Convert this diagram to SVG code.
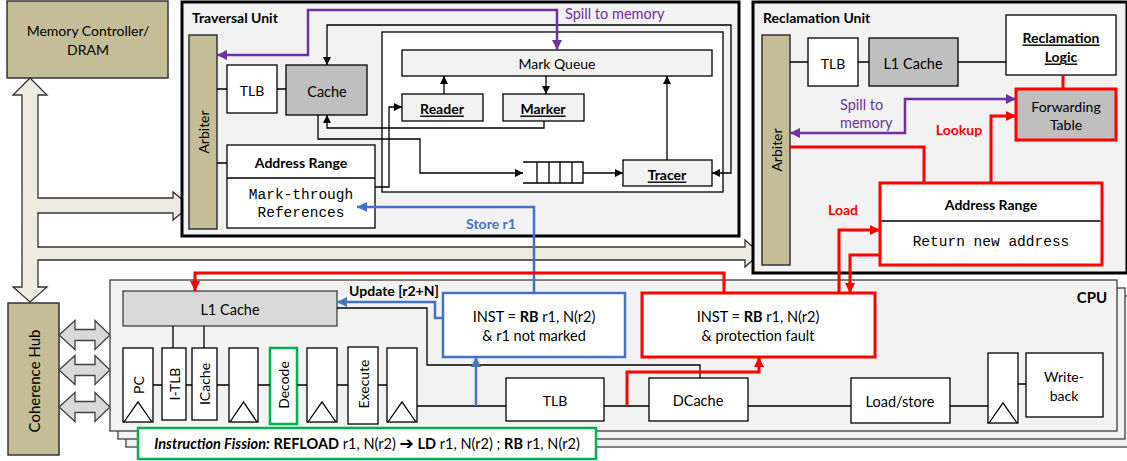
<svg xmlns="http://www.w3.org/2000/svg" width="1127" height="461" viewBox="0 0 1127 461">
<style>
text{font-family:Lato,"Open Sans","Liberation Sans",sans-serif;font-size:14px;fill:#000;dominant-baseline:central;text-anchor:middle}
.t{font-size:14px;font-weight:bold;text-anchor:start}
.b{font-weight:bold}
.u{font-weight:bold;text-decoration:underline}
.m{font-family:"Liberation Mono","DejaVu Sans Mono",monospace;font-size:14.5px}
.box{fill:#fff;stroke:#000;stroke-width:1.3}
.lg{fill:#f2f2f2;stroke:#000;stroke-width:1.3}
.gr{fill:#bfbfbf;stroke:#000;stroke-width:1.3}
.tan{fill:#c4bd97;stroke:#333;stroke-width:1.5}
.unit{fill:#f2f2f2;stroke:#000;stroke-width:3}
.cpu{fill:#f2f2f2;stroke:#404040;stroke-width:1.3}
.ln{fill:none;stroke:#000;stroke-width:1.3}
.red{fill:none;stroke:#f00;stroke-width:3}
.blue{fill:none;stroke:#4472c4;stroke-width:2.5}
.pur{fill:none;stroke:#7030a0;stroke-width:2.5}
.tri{fill:none;stroke:#000;stroke-width:1.3}
</style>
<defs>
<marker id="ak" viewBox="0 0 10 10" refX="10" refY="5" markerWidth="8" markerHeight="8" markerUnits="userSpaceOnUse" orient="auto-start-reverse"><path d="M0,0L10,5L0,10z" fill="#000"/></marker>
<marker id="ar" viewBox="0 0 10 10" refX="10" refY="5" markerWidth="10" markerHeight="10" markerUnits="userSpaceOnUse" orient="auto-start-reverse"><path d="M0,0L10,5L0,10z" fill="#f00"/></marker>
<marker id="abl" viewBox="0 0 10 10" refX="10" refY="5" markerWidth="10" markerHeight="10" markerUnits="userSpaceOnUse" orient="auto-start-reverse"><path d="M0,0L10,5L0,10z" fill="#4472c4"/></marker>
<marker id="ap" viewBox="0 0 10 10" refX="10" refY="5" markerWidth="10" markerHeight="10" markerUnits="userSpaceOnUse" orient="auto-start-reverse"><path d="M0,0L10,5L0,10z" fill="#7030a0"/></marker>
</defs>

<g id="memory-controller">
<rect class="tan" x="7" y="1" width="161" height="77"/>
<text x="88" y="30">Memory Controller/</text>
<text x="88" y="49">DRAM</text>
</g>

<g id="bus">
<polygon points="30,78 47,95 38,95 38,198 173,198 173,192 190,206 173,220 173,213 38,213 38,247 745,247 745,240 760,253.5 745,267 745,260 38,260 38,287 47,287 30,302 13,287 22,287 22,95 13,95" fill="#eeece1" stroke="#333" stroke-width="1.3"/>
</g>

<g id="coherence-hub">
<rect class="tan" x="8" y="303" width="51" height="152"/>
<text x="34" y="381" transform="rotate(-90 34 381)" style="font-size:15px">Coherence Hub</text>
</g>

<g id="hub-links" fill="#d9d9d9" stroke="#404040" stroke-width="1.3">
<polygon points="59,335 75,320.5 75,329.5 95,329.5 95,320.5 110,335 95,349.5 95,340.5 75,340.5 75,349.5"/>
<polygon points="59,370 75,355.5 75,364.5 95,364.5 95,355.5 110,370 95,384.5 95,375.5 75,375.5 75,384.5"/>
<polygon points="59,407 75,392.5 75,401.5 95,401.5 95,392.5 110,407 95,421.5 95,412.5 75,412.5 75,421.5"/>
</g>

<g id="traversal-unit">
<rect class="unit" x="182" y="2" width="557" height="234"/>
<text class="t" x="192" y="17">Traversal Unit</text>
<rect class="tan" x="189" y="35" width="28" height="194"/>
<text x="203" y="132" transform="rotate(-90 203 132)">Arbiter</text>
<rect class="box" x="227" y="65" width="50" height="48"/>
<text x="252" y="90">TLB</text>
<rect class="gr" x="286" y="65" width="81" height="50"/>
<text x="327" y="91" style="font-size:14.5px">Cache</text>
<rect class="box" x="227" y="145" width="148" height="83"/>
<line class="ln" x1="227" y1="178" x2="375" y2="178"/>
<text class="b" x="301" y="162">Address Range</text>
<text class="m" x="301" y="195">Mark-through</text>
<text class="m" x="301" y="213">References</text>
<rect class="box" x="382" y="32" width="341" height="160"/>
<rect class="lg" x="402" y="50" width="310" height="26"/>
<text x="557" y="63">Mark Queue</text>
<rect class="lg" x="402" y="94" width="81" height="27"/>
<text class="u" x="442" y="108">Reader</text>
<rect class="lg" x="503" y="94" width="81" height="27"/>
<text class="u" x="543" y="108">Marker</text>
<path class="ln" d="M523,162H583V183H523M537,162V183M549,162V183M560,162V183M572,162V183"/>
<rect class="lg" x="623" y="160" width="89" height="26"/>
<text class="u" x="667" y="174">Tracer</text>
</g>

<g id="reclamation-unit">
<rect class="unit" x="753" y="2" width="374" height="271"/>
<text class="t" x="763" y="17">Reclamation Unit</text>
<rect class="tan" x="762" y="35" width="28" height="230"/>
<text x="776" y="150" transform="rotate(-90 776 150)">Arbiter</text>
<rect class="box" x="808" y="38" width="50" height="48"/>
<text x="833" y="63">TLB</text>
<rect class="gr" x="869" y="38" width="89" height="48"/>
<text x="913" y="63" style="font-size:14.5px">L1 Cache</text>
<rect class="box" x="1006" y="15" width="110" height="60"/>
<text class="u" x="1061" y="37">Reclamation</text>
<text class="u" x="1061" y="56">Logic</text>
<rect x="1016" y="89" width="100" height="51" fill="#bfbfbf" stroke="#f00" stroke-width="3"/>
<text x="1066" y="106">Forwarding</text>
<text x="1066" y="124">Table</text>
<rect x="880" y="183" width="222" height="82" fill="#fff" stroke="#f00" stroke-width="3"/>
<line class="ln" x1="881.5" y1="221" x2="1100.5" y2="221"/>
<text class="b" x="991" y="204">Address Range</text>
<text class="m" x="991" y="242">Return new address</text>
</g>

<g id="cpu">
<rect class="cpu" x="126" y="296" width="1010" height="151" fill="#f7f7f7"/>
<rect class="cpu" x="118" y="288" width="1007" height="151" fill="#f7f7f7"/>
<rect class="cpu" x="110" y="280" width="1007" height="151"/>
<text class="b" x="1092" y="297" style="font-size:15px">CPU</text>
<rect x="123" y="291" width="214" height="35" fill="#d9d9d9" stroke="#404040" stroke-width="1.3"/>
<text x="230" y="309" style="font-size:14.5px">L1 Cache</text>
<g id="stage-pc"><rect class="box" x="123" y="348" width="30" height="74"/><path class="tri" d="M124,422L138,402L152,422"/><text x="138" y="385" transform="rotate(-90 138 385)">PC</text></g>
<g id="stage-itlb"><rect class="box" x="162" y="348" width="24" height="72"/><text x="174" y="384" transform="rotate(-90 174 384)">I-TLB</text></g>
<g id="stage-icache"><rect class="box" x="192" y="348" width="25" height="72"/><text x="204.5" y="384" transform="rotate(-90 204.5 384)">ICache</text></g>
<g id="reg1"><rect class="box" x="229" y="348" width="29" height="74"/><path class="tri" d="M230,422L243.5,402L257,422"/></g>
<g id="stage-decode"><rect x="270" y="348" width="27" height="76" fill="#fff" stroke="#00b050" stroke-width="2.5"/><text x="283.5" y="385" transform="rotate(-90 283.5 385)">Decode</text></g>
<g id="reg2"><rect class="box" x="307" y="348" width="30" height="74"/><path class="tri" d="M308,422L322,402L336,422"/></g>
<g id="stage-execute"><rect class="box" x="348" y="347" width="30" height="77"/><text x="363" y="384" transform="rotate(-90 363 384)">Execute</text></g>
<g id="reg3"><rect class="box" x="387" y="348" width="30" height="74"/><path class="tri" d="M388,422L402,402L416,422"/></g>
<g id="tlb"><rect class="box" x="506" y="378" width="98" height="43"/><text x="555" y="400">TLB</text></g>
<g id="dcache"><rect class="box" x="649" y="378" width="99" height="43"/><text x="698" y="400" style="font-size:14.5px">DCache</text></g>
<g id="loadstore"><rect class="box" x="851" y="378" width="99" height="45"/><text x="900" y="401" style="font-size:14.5px">Load/store</text></g>
<g id="reg4"><rect class="box" x="988" y="353" width="30" height="70"/><path class="tri" d="M989,423L1003,403L1017,423"/></g>
<g id="writeback"><rect class="box" x="1026" y="353" width="77" height="64"/><text x="1064" y="376">Write-</text><text x="1064" y="395">back</text></g>
<g id="rb-not-marked"><rect x="443" y="293" width="182" height="64" fill="#fff" stroke="#4472c4" stroke-width="2.5"/>
<text x="534" y="316" style="font-size:14.5px">INST = <tspan class="b">RB</tspan> r1, N(r2)</text>
<text x="534" y="335" style="font-size:14.5px">&amp; r1 not marked</text></g>
<g id="rb-fault"><rect x="642" y="293" width="233" height="64" fill="#fff" stroke="#f00" stroke-width="3"/>
<text x="758" y="316" style="font-size:14.5px">INST = <tspan class="b">RB</tspan> r1, N(r2)</text>
<text x="758" y="335" style="font-size:14.5px">&amp; protection fault</text></g>
<g id="fission"><rect x="138" y="428" width="458" height="31" fill="#fff" stroke="#00b050" stroke-width="2.5"/>
<text x="367" y="443" style="font-size:14.5px"><tspan font-weight="bold" font-style="italic">Instruction Fission:</tspan> <tspan class="b">REFLOAD</tspan> r1, N(r2) <tspan class="b" font-family="'DejaVu Sans',sans-serif" font-size="17px">➔</tspan> <tspan class="b">LD</tspan> r1, N(r2) ; <tspan class="b">RB</tspan> r1, N(r2)</text></g>
</g>

<g id="connectors">
<path class="ln" d="M217,89H227M277,89H286M217,163H227"/>
<path class="ln" d="M327,65V25H731V173H712" marker-start="url(#ak)" marker-end="url(#ak)"/>
<path class="ln" d="M544,121V128H327V115" marker-end="url(#ak)"/>
<path class="ln" d="M318,115V139H420V173H523" marker-end="url(#ak)"/>
<path class="ln" d="M583,173H623" marker-end="url(#ak)"/>
<path class="ln" d="M667,160V76" marker-end="url(#ak)"/>
<path class="ln" d="M546,76V94" marker-end="url(#ak)"/>
<path class="ln" d="M444,94V76" marker-end="url(#ak)"/>
<path class="ln" d="M375,187H389V107H402" marker-end="url(#ak)"/>
<path class="pur" d="M217,55H308V10H557V50" marker-start="url(#ap)" marker-end="url(#ap)"/>
<text x="565" y="13" style="text-anchor:start;fill:#7030a0;font-size:14.5px">Spill to memory</text>

<path class="ln" d="M790,62H808M858,62H869M958,62H1006"/>
<path class="red" d="M1063,75V89"/>
<path class="pur" d="M790,133H905V99H1016" marker-start="url(#ap)" marker-end="url(#ap)"/>
<text x="840" y="104" style="text-anchor:start;fill:#7030a0;font-size:14.5px">Spill to</text>
<text x="840" y="122" style="text-anchor:start;fill:#7030a0;font-size:14.5px">memory</text>
<path class="red" d="M991,183V116H1016" marker-end="url(#ar)"/>
<text class="b" x="959" y="129" style="fill:#f00">Lookup</text>
<path class="red" d="M790,147H924V183"/>
<text class="b" x="843" y="209" style="fill:#f00">Load</text>
<path class="red" d="M839,293V230H880" marker-end="url(#ar)"/>
<path class="red" d="M880,255H850V293" marker-end="url(#ar)"/>

<path class="ln" d="M173,326V348M204,326V348"/>
<path class="ln" d="M153,385H162M186,385H192M217,385H229M258,385H270M297,385H307M337,385H348M378,385H387"/>
<path class="ln" d="M417,406H506M604,406H649M748,406H851M950,406H988M1018,384H1026"/>
<path class="ln" d="M337,308H427V365H700V378"/>
<path class="blue" d="M476,406V357" marker-end="url(#abl)"/>
<path class="blue" d="M534,293V207H357" marker-end="url(#abl)"/>
<text class="b" x="491" y="223" style="fill:#4472c4">Store r1</text>
<path class="blue" d="M443,318H435V302H337" marker-end="url(#abl)"/>
<text class="b" x="394" y="290">Update [r2+N]</text>
<path class="red" d="M627,406V372H759V357" marker-end="url(#ar)"/>
<path class="red" d="M724,293V273H195V291" marker-end="url(#ar)"/>
</g>
</svg>
